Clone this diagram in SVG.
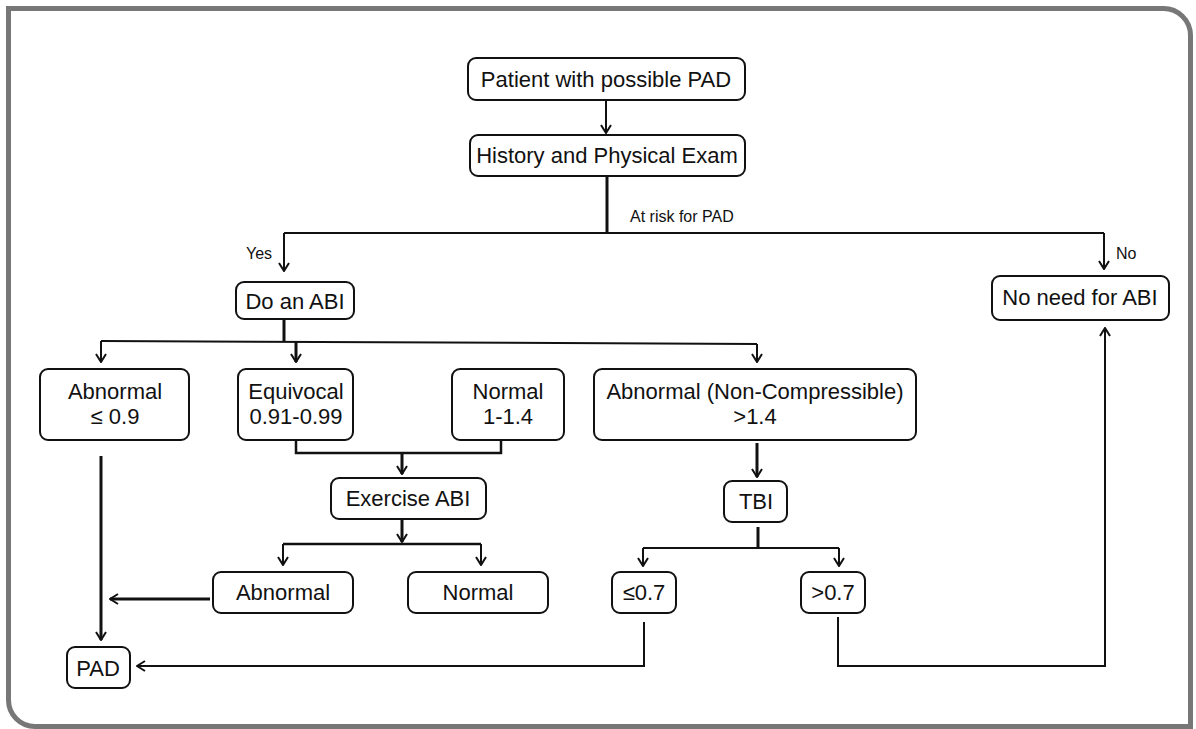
<svg xmlns="http://www.w3.org/2000/svg" width="1196" height="729" viewBox="0 0 1196 729">
<defs>
<style>
.box{fill:#fff;stroke:#111;stroke-width:2}
.t{font-family:"Liberation Sans",Arial,sans-serif;font-size:22px;fill:#111;text-anchor:middle}
.s{font-family:"Liberation Sans",Arial,sans-serif;font-size:16px;fill:#111}
.c{fill:none;stroke:#111;stroke-width:2}
.k{stroke-width:3}
.a{marker-end:url(#ah)}
</style>
<marker id="ah" viewBox="0 0 10 12" refX="9" refY="6" markerWidth="10" markerHeight="12" markerUnits="userSpaceOnUse" orient="auto">
<path d="M1,1 L9,6 L1,11" fill="none" stroke="#111" stroke-width="2"/>
</marker>
</defs>
<rect width="1196" height="729" fill="#fff"/>
<path d="M8.5,8.5 H1163 A27,27 0 0 1 1190.5,35.5 V726.5 H35 A26.5,26.5 0 0 1 8.5,700 Z" fill="none" stroke="#777" stroke-width="5"/>
<g id="connectors">
<path class="c a" d="M606,100 V133"/>
<path class="c k" d="M607,176 V233"/>
<path class="c" d="M284,233 H1104"/>
<path class="c a" d="M284,233 V271"/>
<path class="c a" d="M1104,233 V269"/>
<path class="c k" d="M284,318 V342"/>
<path class="c" d="M101,341 L757,344"/>
<path class="c a" d="M101,341 V362"/>
<path class="c k a" d="M296,341.5 V362"/>
<path class="c a" d="M757,344 V362"/>
<path class="c" d="M296,440 V453 H501 V440" style="stroke-width:2.5"/>
<path class="c k a" d="M402,453 V474"/>
<path class="c k a" d="M402,518 V542"/>
<path class="c" d="M283,544 H481" style="stroke-width:2.5"/>
<path class="c a" d="M283,544 V565"/>
<path class="c a" d="M481,544 V565"/>
<path class="c k a" d="M757,443 V477"/>
<path class="c k" d="M758,527 V548"/>
<path class="c" d="M643,548 H839"/>
<path class="c a" d="M643,548 V566"/>
<path class="c a" d="M839,548 V566"/>
<path class="c k a" d="M101,456 V640"/>
<path class="c k a" d="M210,599 H110"/>
<path class="c a" d="M644,622 V666 H137"/>
<path class="c a" d="M838,617 V666 H1105 V328"/>
</g>
<g id="labels">
<text class="s" x="630" y="222">At risk for PAD</text>
<text class="s" x="246" y="259">Yes</text>
<text class="s" x="1116" y="259">No</text>
</g>
<g id="n1"><rect class="box" x="468" y="58" width="277" height="42" rx="8"/><text class="t" x="606" y="87">Patient with possible PAD</text></g>
<g id="n2"><rect class="box" x="470" y="135" width="275" height="41" rx="8"/><text class="t" x="607" y="163">History and Physical Exam</text></g>
<g id="n3"><rect class="box" x="236" y="282" width="118" height="37" rx="8"/><text class="t" x="295" y="309">Do an ABI</text></g>
<g id="n4"><rect class="box" x="992" y="276" width="177" height="44" rx="8"/><text class="t" x="1080" y="305">No need for ABI</text></g>
<g id="n5"><rect class="box" x="40" y="369" width="149" height="71" rx="8"/><text class="t" x="115" y="399">Abnormal</text><text class="t" x="115" y="424">≤ 0.9</text></g>
<g id="n6"><rect class="box" x="238" y="369" width="115" height="71" rx="8"/><text class="t" x="296" y="399">Equivocal</text><text class="t" x="296" y="424">0.91-0.99</text></g>
<g id="n7"><rect class="box" x="452" y="369" width="112" height="71" rx="8"/><text class="t" x="508" y="399">Normal</text><text class="t" x="508" y="424">1-1.4</text></g>
<g id="n8"><rect class="box" x="594" y="369" width="322" height="71" rx="8"/><text class="t" x="755" y="399">Abnormal (Non-Compressible)</text><text class="t" x="755" y="424">&gt;1.4</text></g>
<g id="n9"><rect class="box" x="331" y="478" width="155" height="41" rx="8"/><text class="t" x="408" y="506">Exercise ABI</text></g>
<g id="n10"><rect class="box" x="724" y="481" width="63" height="41" rx="8"/><text class="t" x="756" y="509">TBI</text></g>
<g id="n11"><rect class="box" x="213" y="572" width="140" height="41" rx="8"/><text class="t" x="283" y="600">Abnormal</text></g>
<g id="n12"><rect class="box" x="408" y="572" width="140" height="41" rx="8"/><text class="t" x="478" y="600">Normal</text></g>
<g id="n13"><rect class="box" x="612" y="572" width="64" height="41" rx="8"/><text class="t" x="644" y="600">≤0.7</text></g>
<g id="n14"><rect class="box" x="801" y="572" width="64" height="41" rx="8"/><text class="t" x="833" y="600">&gt;0.7</text></g>
<g id="n15"><rect class="box" x="67" y="647" width="63" height="41" rx="8"/><text class="t" x="98" y="676">PAD</text></g>
</svg>
